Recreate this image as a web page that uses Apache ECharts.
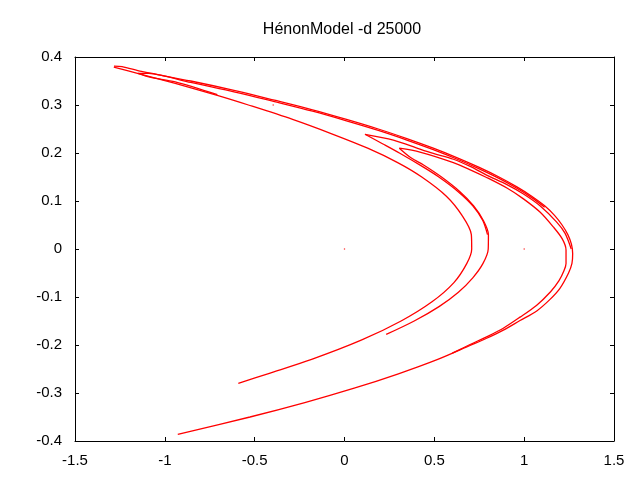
<!DOCTYPE html>
<html><head><meta charset="utf-8">
<style>html,body{margin:0;padding:0;background:#fff}#c{width:640px;height:480px}</style>
<script src="https://cdn.jsdelivr.net/npm/echarts@6/dist/echarts.min.js"></script>
</head><body><div id="c"></div>
<script>
const titleText = "HénonModel -d 25000";
const outerBranch = [[-1.283,.381],[-1.238,.380],[-1.130,.37],[-.856,.35],[-.609,.33],[-.39,.31],[-.178,.29],[.011,.27],[.188,.25],[.347,.23],[.494,.21],[.628,.19],[.75,.17],[.86,.15],[.957,.13],[1.042,.11],[1.114,.09],[1.169,.07],[1.211,.05],[1.243,.03],[1.263,.01],[1.270,-.01],[1.266,-.03],[1.247,-.05],[1.199,-.082],[1.144,-.105],[1.07,-.129],[.977,-.149],[.884,-.169],[.791,-.186],[.699,-.201],[.519,-.23],[.300,-.26],[.054,-.29],[-.221,-.32],[-.526,-.35],[-.928,-.386]];
const tongueOneUpper = [[.114,.239],[.272,.227],[.42,.208],[.494,.199],[.606,.187],[.70,.172],[.791,.154],[.904,.134],[.994,.115],[1.088,.09],[1.181,.056],[1.227,.033],[1.262,0]];
const tongueOneLower = [[.114,.239],[.214,.2188],[.308,.1994],[.437,.171],[.525,.15],[.631,.12],[.714,.09],[.769,.06],[.796,.03]];
const tongueTwoUpper = [[.305,.210],[.42,.202],[.606,.18],[.70,.165],[.791,.149],[.904,.127],[.994,.105],[1.088,.077],[1.162,.046],[1.212,.021],[1.233,-.002],[1.233,-.03],[1.222,-.045],[1.194,-.066],[1.147,-.089],[1.07,-.117],[.977,-.142],[.884,-.165],[.791,-.183],[.699,-.199],[.60,-.217]];
const tongueTwoLower = [[.305,.210],[.37,.19],[.44,.175],[.54,.15],[.641,.12],[.719,.09],[.772,.06],[.801,.03],[.80,0],[.771,-.03],[.714,-.06],[.634,-.09],[.526,-.12],[.388,-.15],[.232,-.178]];
const innerBranch = [[-1.284,.379],[-1.142,.365],[-.942,.345],[-.708,.32],[-.535,.30],[-.289,.27],[-.071,.24],[.129,.21],[.296,.18],[.43,.15],[.567,.11],[.654,.07],[.706,.03],[.708,0],[.681,-.03],[.609,-.07],[.487,-.11],[.315,-.15],[.093,-.19],[-.183,-.23],[-.427,-.26],[-.591,-.28]];
const tipUpper = [[-1.149,.366],[-1.09,.366],[-1.0,.36],[-.856,.347],[-.609,.327],[-.39,.307],[-.178,.287],[.011,.267],[.188,.247],[.347,.227],[.494,.207],[.628,.187],[.75,.167],[.86,.147],[.957,.127],[1.042,.107],[1.114,.087]];
const tipLower = [[-1.149,.366],[-1.083,.358],[-.942,.348],[-.708,.3215]];
const strayPoints = [[0,0],[1,0],[-.397,.3]];
const strands = [outerBranch, tongueOneUpper, tongueOneLower, tongueTwoUpper, tongueTwoLower, innerBranch, tipUpper, tipLower];

const font = "'Liberation Sans', Arial, sans-serif";
const black = {lineStyle:{color:'#000',width:1}};
function xAxis(pos,show){return {type:'value',position:pos,min:-1.5,max:1.5,interval:.5,
  axisLine:{show:true,onZero:false,...black},axisTick:{show:true,inside:true,length:4,...black},
  splitLine:{show:false},axisLabel:{show:show,color:'#000',fontFamily:font,fontSize:15,margin:12}};}
function yAxis(pos,show){return {type:'value',position:pos,min:-.4,max:.4,interval:.1,
  axisLine:{show:true,onZero:false,...black},axisTick:{show:true,inside:true,length:4,...black},
  splitLine:{show:false},axisLabel:{show:show,color:'#000',fontFamily:font,fontSize:15,margin:13,
    formatter:v=>String(Math.round(v*10)/10)}};}
const series = strands.map(d=>({type:'line',data:d,smooth:.3,showSymbol:false,symbol:'none',silent:true,
  lineStyle:{color:'#ff0000',width:1.3},z:3}));
series.push({type:'scatter',data:strayPoints,symbolSize:1.5,silent:true,itemStyle:{color:'#ff0000'}});
echarts.init(document.getElementById('c'),null,{renderer:'canvas'}).setOption({
  animation:false,backgroundColor:'#fff',
  title:{text:titleText,left:337,top:17,textAlign:'center',
    textStyle:{color:'#000',fontFamily:font,fontSize:16,fontWeight:'normal'}},
  grid:{left:75,right:26,top:57,bottom:39,containLabel:false},
  xAxis:[xAxis('bottom',true),xAxis('top',false)],
  yAxis:[yAxis('left',true),yAxis('right',false)],
  series
});
</script></body></html>
